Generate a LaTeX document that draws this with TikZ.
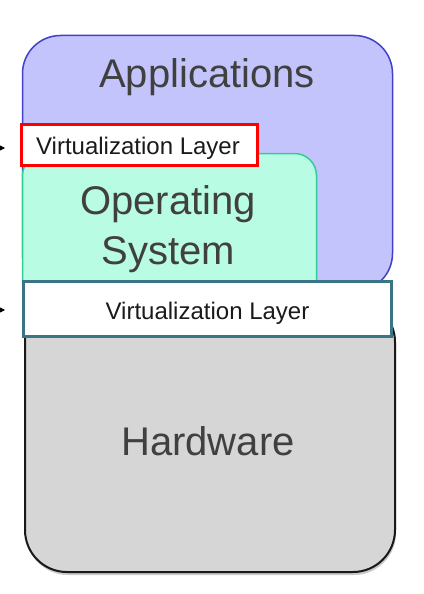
\documentclass[tikz,border=0pt]{standalone}
\usepackage{fontspec}
\setmainfont{Liberation Sans}
\usetikzlibrary{arrows.meta,shadows}
\definecolor{appfill}{HTML}{C4C4FC}
\definecolor{appline}{HTML}{4040C8}
\definecolor{osfill}{HTML}{B8FCE4}
\definecolor{osline}{HTML}{33CC99}
\definecolor{vline}{HTML}{3A7585}
\definecolor{hwfill}{HTML}{D6D6D6}
\definecolor{bigtxt}{HTML}{404040}
\definecolor{smalltxt}{HTML}{1A1A1A}
\tikzset{
  box/.style={anchor=north west, inner sep=0pt, outer sep=0pt},
  appbox/.style={box, fill=appfill, draw=appline, line width=1.5pt, rounded corners=38pt},
  osbox/.style={box, fill=osfill, draw=osline, line width=1.5pt, rounded corners=22pt},
  hwbox/.style={box, fill=hwfill, draw=black!90, line width=2pt, rounded corners=42pt,
    drop shadow={shadow xshift=1pt, shadow yshift=-3pt, opacity=0.35, fill=black!60}},
  redlayer/.style={box, fill=white, draw=red, line width=3pt},
  tealayer/.style={box, fill=white, draw=vline, line width=3pt},
  bigtext/.style={anchor=base, inner sep=0pt, text=bigtxt, font=\fontsize{40}{46}\selectfont},
  smalltext/.style={anchor=base, inner sep=0pt, text=smalltxt, font=\fontsize{24}{28}\selectfont},
  tiparrow/.style={-{Triangle[length=5pt,width=5pt]}, line width=0.8pt}
}
\begin{document}
\begin{tikzpicture}[x=1pt,y=-1pt]
\useasboundingbox (0,0) rectangle (423,594);
\fill[white] (0,0) rectangle (423,594);
\node[appbox, minimum width=370pt, minimum height=256pt] (apps) at (22.5,35.5) {};
\node[osbox, minimum width=294pt, minimum height=150pt] (os) at (22.5,153.5) {};
\node[hwbox, minimum width=370pt, minimum height=272pt] (hw) at (25,300) {};
\node[tealayer, minimum width=368pt, minimum height=55pt] (vl2) at (23.5,281.5) {};
\node[redlayer, minimum width=236pt, minimum height=41pt] (vl1) at (21.5,124.5) {};
\node[bigtext] (appslabel) at (207,88) {Applications};
\node[bigtext] (oslabel1) at (168,214) {Operating};
\node[bigtext] (oslabel2) at (168,264) {System};
\node[bigtext] (hwlabel) at (208,455) {Hardware};
\node[smalltext] (vl1label) at (138,154) {Virtualization Layer};
\node[smalltext] (vl2label) at (207.5,319) {Virtualization Layer};
\begin{scope}
\clip (0,0) rectangle (423,594);
\coordinate (a1s) at (-20,148);
\coordinate (a1e) at (5,148);
\coordinate (a2s) at (-20,310);
\coordinate (a2e) at (5,310);
\draw[tiparrow] (a1s) -- (a1e);
\draw[tiparrow] (a2s) -- (a2e);
\end{scope}
\end{tikzpicture}
\end{document}
